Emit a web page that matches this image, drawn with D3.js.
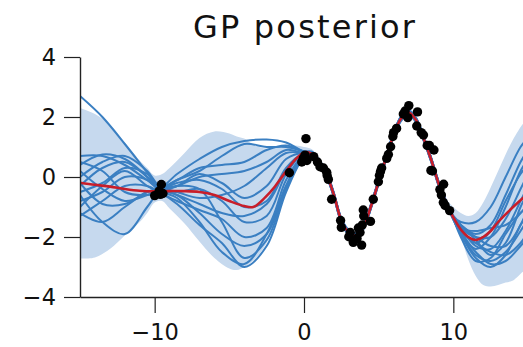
<!DOCTYPE html>
<html>
<head>
<meta charset="utf-8">
<script src="https://cdn.jsdelivr.net/npm/d3@7"></script>
<style>
  html, body { margin: 0; padding: 0; background: #fff; overflow: hidden; }
  svg { display: block; }
  text { font-family: "DejaVu Sans", sans-serif; fill: #111; }
</style>
</head>
<body>
<svg id="chart" width="523" height="347"></svg>
<script>
// ---- data -----------------------------------------------------------
const titleText = "GP posterior";
const xTicks = [-10, 0, 10];
const yTicks = [-4, -2, 0, 2, 4];

// posterior mean
const meanX = [-15,-14,-13,-12,-11,-10,-9,-8,-7,-6,-5,-4,-3.4,-2.6,-2,-1.3,-0.6,0,
               0.5,1,1.5,2,2.5,3,3.5,4,4.5,5,5.5,6,6.5,7,7.5,8,8.5,9,9.5,
               10,10.5,11,11.5,12,12.5,13,14,15];
const meanY = [-0.19,-0.26,-0.32,-0.4,-0.46,-0.48,-0.47,-0.47,-0.5,-0.6,-0.8,-0.97,-1.0,-0.68,-0.35,0.12,0.57,0.82,
               0.78,0.5,0.1,-0.6,-1.45,-1.85,-1.95,-1.65,-0.95,-0.15,0.65,1.4,1.95,2.15,1.9,1.3,0.6,-0.2,-0.85,
               -1.35,-1.75,-2.0,-2.1,-2.0,-1.8,-1.5,-1.0,-0.55];

// credible band (upper / lower edge)
const bandX = [-15,-14,-13,-12,-11,-10.5,-10,-9.5,-9,-8,-7,-6,-5,-4.5,-4,-3.3,-2.5,-2,-1.3,-0.6,0,
               0.5,1,1.5,2,2.5,3,3.5,4,4.5,5,5.5,6,6.5,7,7.5,8,8.5,9,9.5,
               10,10.5,11,11.5,12,12.5,13,13.5,14,14.7,15];
const bandHigh = [2.3,2.1,1.75,1.15,0.55,0.3,0.05,0.1,0.3,0.8,1.3,1.52,1.45,1.35,1.28,1.05,0.95,0.97,1.03,1.05,1.0,
                  0.93,0.65,0.25,-0.45,-1.3,-1.7,-1.8,-1.5,-0.8,0.0,0.8,1.55,2.1,2.3,2.05,1.45,0.75,-0.05,-0.7,
                  -1.0,-1.2,-1.3,-1.2,-0.85,-0.35,0.2,0.75,1.25,1.8,1.95];
const bandLow  = [-2.72,-2.68,-2.4,-1.95,-1.5,-1.2,-0.85,-0.8,-1.05,-1.55,-2.15,-2.7,-3.05,-3.1,-3.0,-2.75,-2.2,-1.6,-0.6,0.25,0.6,
                  0.63,0.35,-0.05,-0.75,-1.6,-2.0,-2.1,-1.8,-1.1,-0.3,0.5,1.25,1.8,2.0,1.75,1.15,0.45,-0.35,-1.0,
                  -1.5,-2.0,-2.75,-3.3,-3.6,-3.65,-3.6,-3.52,-3.45,-3.15,-3.1];

// posterior draws: free left part, shared data part, free right part
const sampleXLeft  = [-15,-13.5,-12,-10.5,-9.7,-8.5,-7,-5.5,-4,-2.5,-1.2,0];
const sampleXMid   = [0.5,1,1.5,2,2.5,3,3.5,4,4.5,5,5.5,6,6.5,7,7.5,8,8.5,9,9.5];
const sampleXRight = [10,10.5,11.5,12.5,13.5,14.5,15];

const samplesLeft = [
  [ 2.7, 2.0, 1.1, 0.15,-0.35, 0.1, 0.6, 1.0, 1.2, 1.25, 1.15, 0.85],
  [ 0.7, 0.7, 0.4,-0.1,-0.35,-0.1, 0.3, 0.4, 0.5, 0.9, 1.05, 0.85],
  [ 0.4, 0.75, 0.6, 0.0,-0.4,-0.3, 0.0, 0.1, 0.2, 0.5, 0.9, 0.8],
  [ 0.0, 0.5, 0.7, 0.2,-0.3,-0.5,-0.7,-0.6,-0.3, 0.3, 0.8, 0.8],
  [-0.3, 0.3, 0.5, 0.0,-0.4,-0.2,-0.1,-0.4,-1.0,-0.8, 0.3, 0.8],
  [-0.5,-0.2, 0.3, 0.1,-0.4,-0.6,-1.2,-1.9,-2.3,-1.9,-0.3, 0.75],
  [-0.8,-0.5, 0.0,-0.1,-0.45,-0.7,-1.5,-2.5,-2.9,-1.9,-0.3, 0.7],
  [-1.0,-0.3, 0.2,-0.3,-0.5,-0.8,-1.1,-1.4,-2.0,-1.7,-0.1, 0.75],
  [-1.2,-1.5,-1.0,-0.5,-0.45,-0.5,-0.4,-0.8,-1.5,-1.3, 0.1, 0.8],
  [-0.6,-1.5,-1.9,-1.0,-0.5,-0.3,-0.4,-1.5,-2.7,-2.1,-0.4, 0.7],
  [-1.3,-0.8,-0.3,-0.3,-0.5,-0.9,-1.6,-2.2,-3.0,-2.3,-0.5, 0.65],
  [ 0.2,-0.4,-0.8,-0.6,-0.45,-0.1, 0.2, 0.7, 1.1, 1.0, 1.0, 0.85],
  [-0.2,-0.9,-0.9,-0.5,-0.4,-0.6,-0.9,-1.2,-1.3,-0.9, 0.2, 0.8],
  [ 0.5, 0.2,-0.5,-0.6,-0.5,-0.3, 0.1,-0.2,-0.7,-0.3, 0.6, 0.8]
];
const samplesMidOffset = [0.06,0.04,0.02,-0.02,0.05,-0.05,-0.07,0.03,-0.03,0.07,-0.06,0.0,0.04,-0.04];
const samplesRight = [
  [-1.3,-1.5,-1.5,-1.0, 0.0, 1.0, 1.3],
  [-1.3,-1.6,-1.9,-1.6,-0.6, 0.5, 0.9],
  [-1.35,-1.7,-2.0,-2.0,-1.4,-0.4, 0.1],
  [-1.35,-1.7,-2.3,-2.4,-1.8,-0.8,-0.3],
  [-1.4,-1.8,-2.4,-2.0,-1.0, 0.2, 0.6],
  [-1.4,-1.9,-2.6,-2.8,-2.5,-1.8,-1.4],
  [-1.4,-1.8,-2.2,-2.5,-2.6,-2.2,-1.8],
  [-1.4,-2.0,-2.8,-2.7,-1.9,-1.2,-1.0],
  [-1.35,-1.7,-1.8,-1.7,-1.6,-1.2,-0.9],
  [-1.4,-1.9,-2.5,-2.9,-2.8,-2.3,-2.0],
  [-1.3,-1.6,-2.1,-2.6,-2.2,-1.0,-0.5],
  [-1.35,-1.7,-2.2,-1.8,-0.8, 0.1, 0.4],
  [-1.4,-1.9,-2.7,-3.0,-2.6,-1.6,-1.2],
  [-1.35,-1.6,-2.0,-2.3,-2.3,-1.6,-1.0]
];

// observations
const obsX = [-10.0,-9.7,-9.55,-9.45,-9.62,
  -0.98,-0.15,-0.05,0.07,0.13,0.2,0.65,0.9,1.07,1.3,1.52,1.63,1.55,1.85,2.45,2.5,3.0,3.1,3.3,3.55,3.64,3.75,3.86,3.9,3.97,4.0,4.45,
  4.64,4.98,5.05,5.12,5.2,5.54,5.65,5.8,5.95,6.0,6.2,6.65,6.77,6.95,7.02,7.6,7.55,7.85,8.0,8.25,8.4,8.7,8.5,8.6,9.1,9.2,9.35,9.33,9.45,9.75];
const obsY = [-0.62,-0.47,-0.25,-0.55,-0.58,
  0.14,0.5,0.62,0.73,1.28,0.55,0.68,0.5,0.34,0.3,0.16,-0.08,0.05,-0.74,-1.45,-1.68,-1.99,-1.85,-2.18,-2.05,-1.7,-1.85,-2.27,-1.6,-1.1,-1.3,-1.48,
  -0.74,-0.16,0.05,0.18,0.3,0.62,0.75,1.01,1.35,1.48,1.62,2.1,2.2,1.98,2.38,2.17,1.7,1.48,1.4,1.05,1.05,0.9,0.22,0.2,-0.42,-0.6,-0.24,-0.85,-0.95,-1.12];

// ---- layout ---------------------------------------------------------
const svg = d3.select("#chart");
const x = d3.scaleLinear().domain([-15, 15]).range([80, 528]);
const y = d3.scaleLinear().domain([-4, 4]).range([297, 57]);

const colBand = "#c6d9ee";
const colSample = "#3a7fc2";
const colMean = "#c81e2a";

svg.append("defs").append("clipPath").attr("id", "plotClip")
  .append("rect").attr("x", 80).attr("y", 40).attr("width", 460).attr("height", 257);

const plot = svg.append("g").attr("clip-path", "url(#plotClip)");

// band
const bandData = bandX.map((v, i) => ({ x: v, lo: bandLow[i], hi: bandHigh[i] }));
plot.append("path")
  .datum(bandData)
  .attr("fill", colBand)
  .attr("d", d3.area().curve(d3.curveCatmullRom.alpha(0.5))
    .x(d => x(d.x)).y0(d => y(d.lo)).y1(d => y(d.hi)));

// draws
const meanAt = v => meanY[meanX.indexOf(v)];
const line = d3.line().curve(d3.curveCatmullRom.alpha(0.5)).x(d => x(d[0])).y(d => y(d[1]));
samplesLeft.forEach((left, k) => {
  const pts = [];
  sampleXLeft.forEach((v, i) => pts.push([v, left[i]]));
  sampleXMid.forEach(v => pts.push([v, meanAt(v) + samplesMidOffset[k]]));
  sampleXRight.forEach((v, i) => pts.push([v, samplesRight[k][i]]));
  plot.append("path").datum(pts)
    .attr("fill", "none").attr("stroke", colSample)
    .attr("stroke-width", 2).attr("stroke-linejoin", "round")
    .attr("d", line);
});

// mean
plot.append("path")
  .datum(meanX.map((v, i) => [v, meanY[i]]))
  .attr("fill", "none").attr("stroke", colMean).attr("stroke-width", 2.6)
  .attr("d", line);

// observations
svg.append("g").selectAll("circle")
  .data(obsX.map((v, i) => [v, obsY[i]]))
  .join("circle")
  .attr("cx", d => x(d[0])).attr("cy", d => y(d[1]))
  .attr("r", 4.7).attr("fill", "#000");

// axes
const yAxis = svg.append("g").attr("transform", "translate(80,0)")
  .call(d3.axisLeft(y).tickValues(yTicks).tickSize(16).tickSizeOuter(0).tickPadding(8));
const xAxis = svg.append("g").attr("transform", "translate(0,297)")
  .call(d3.axisBottom(x).tickValues(xTicks).tickSize(16).tickSizeOuter(0).tickPadding(11));
[yAxis, xAxis].forEach(a => {
  a.select(".domain").attr("stroke", "#222").attr("stroke-width", 1.4);
  a.selectAll(".tick line").attr("stroke", "#222").attr("stroke-width", 1.2);
  a.selectAll(".tick text").attr("font-family", "'DejaVu Sans', sans-serif")
    .attr("font-size", 22.5).attr("fill", "#111");
});

// title
svg.append("text")
  .attr("x", x(0)).attr("y", 38)
  .attr("text-anchor", "middle")
  .attr("font-size", 32)
  .attr("textLength", 222)
  .attr("lengthAdjust", "spacing")
  .text(titleText);
</script>
</body>
</html>
